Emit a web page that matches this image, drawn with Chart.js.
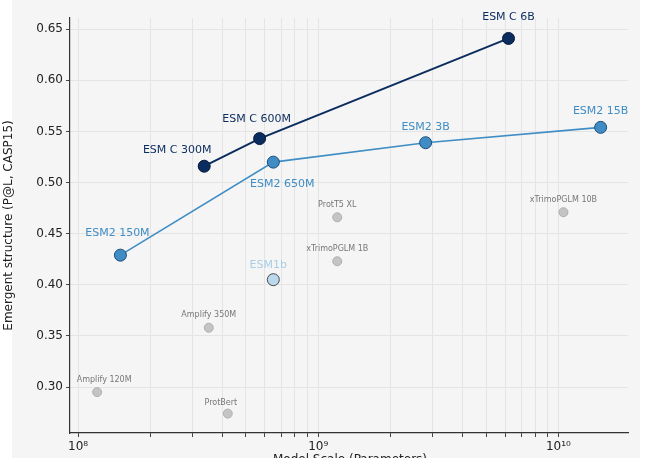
<!DOCTYPE html>
<html><head><meta charset="utf-8">
<script src="https://cdn.jsdelivr.net/npm/chart.js@4"></script>
<style>html,body{margin:0;background:#fff}#wrap{width:660px;height:458px}</style>
</head><body><div id="wrap"><canvas id="c" width="660" height="458"></canvas></div>
<script>
// ─────────── data ───────────
const esmcNames = ["ESM C 300M", "ESM C 600M", "ESM C 6B"];
const esmcParams = [3.35e8, 5.7e8, 6.2e9];
const esmcScore = [0.516, 0.543, 0.641];

const esm2Names = ["ESM2 150M", "ESM2 650M", "ESM2 3B", "ESM2 15B"];
const esm2Params = [1.5e8, 6.5e8, 2.8e9, 1.5e10];
const esm2Score = [0.429, 0.520, 0.539, 0.554];

const esm1bNames = ["ESM1b"];
const esm1bParams = [6.5e8];
const esm1bScore = [0.405];

const otherNames = ["ProtT5 XL", "xTrimoPGLM 1B", "xTrimoPGLM 10B", "Amplify 350M", "Amplify 120M", "ProtBert"];
const otherParams = [1.2e9, 1.2e9, 1.05e10, 3.5e8, 1.2e8, 4.2e8];
const otherScore = [0.466, 0.423, 0.471, 0.358, 0.295, 0.274];

const yTicks = [0.30, 0.35, 0.40, 0.45, 0.50, 0.55, 0.60, 0.65];

// label offsets in px (dx, dy) relative to each point
const offEsmc = [[-27, -16], [-3, -19], [0, -21]];
const offEsm2 = [[-3, -22], [9, 22], [0, -16], [0, -16]];
const offEsm1b = [[-5, -15]];
const offOther = [[0, -12], [0, -12], [0, -12], [0, -13], [7, -12], [-7, -11]];

const pts = (xs, ys) => xs.map((x, i) => ({ x, y: ys[i] }));
const font = "DejaVu Sans";

const labelPlugin = {
  id: "labels",
  beforeDraw(chart) {
    const c = chart.ctx;
    c.save();
    c.fillStyle = "#f5f5f5";
    c.fillRect(12, 0, 628, 458);
    c.restore();
  },
  afterDatasetsDraw(chart) {
    const c = chart.ctx;
    c.save();
    c.textAlign = "center";
    c.textBaseline = "middle";
    chart.data.datasets.forEach((ds, di) => {
      const meta = chart.getDatasetMeta(di);
      meta.data.forEach((el, i) => {
        const [dx, dy] = ds.offsets[i];
        c.fillStyle = ds.labelColor;
        c.font = ds.labelSize + "px '" + font + "'";
        c.fillText(ds.names[i], el.x + dx, el.y + dy);
      });
    });
    c.fillStyle = "#222";
    c.font = "12px '" + font + "'";
    c.fillText("Model Scale (Parameters)", 350, 460);
    c.restore();
  },
};

const sup = { 8: "⁸", 9: "⁹", 10: "¹⁰" };

new Chart(document.getElementById("c"), {
  type: "scatter",
  data: {
    datasets: [{
      names: esmcNames, offsets: offEsmc, labelColor: "#0b2c5e", labelSize: 11,
      data: pts(esmcParams, esmcScore), showLine: true,
      borderColor: "#0b2c5e", backgroundColor: "#0b2c5e", borderWidth: 2,
      pointRadius: 6, pointBorderColor: "#06183a", pointBorderWidth: 1,
    }, {
      names: esm2Names, offsets: offEsm2, labelColor: "#3f8dc4", labelSize: 11,
      data: pts(esm2Params, esm2Score), showLine: true,
      borderColor: "#3f8dc4", backgroundColor: "#3f8dc4", borderWidth: 1.6,
      pointRadius: 6, pointBorderColor: "#1d4d7a", pointBorderWidth: 1,
    }, {
      names: esm1bNames, offsets: offEsm1b, labelColor: "#a9cde6", labelSize: 11,
      data: pts(esm1bParams, esm1bScore),
      backgroundColor: "#bcd8ec", pointRadius: 6, pointBorderColor: "#4a4a4a", pointBorderWidth: 1,
    }, {
      names: otherNames, offsets: offOther, labelColor: "#777", labelSize: 8,
      data: pts(otherParams, otherScore),
      backgroundColor: "#c4c4c4", pointRadius: 4.5, pointBorderColor: "#b0b0b0", pointBorderWidth: 1,
    }],
  },
  options: {
    responsive: false,
    animation: false,
    layout: { padding: { left: 0, right: 32, top: 18, bottom: 0 } },
    plugins: { legend: { display: false }, tooltip: { enabled: false } },
    scales: {
      x: {
        type: "logarithmic", min: 0.925e8, max: 1.95e10,
        afterFit: s => { s.height = 25; },
        afterBuildTicks: s => {
          const t = [];
          for (let e = 8; e <= 10; e++) for (let m = 1; m <= 9; m++) {
            const v = m * Math.pow(10, e);
            if (v >= s.min && v <= s.max) t.push({ value: v });
          }
          s.ticks = t;
        },
        ticks: {
          autoSkip: false, maxRotation: 0, color: "#222", font: { family: font, size: 12 },
          callback: v => { const e = Math.round(Math.log10(v)); return Math.abs(Math.log10(v) - e) < 1e-6 ? "10" + sup[e] : ""; },
        },
        grid: { color: "#e4e4e4", tickColor: "#444", tickLength: 4 },
        border: { color: "#333", width: 1.2 },
      },
      y: {
        min: 0.255, max: 0.661,
        afterFit: s => { s.width = 70; },
        afterBuildTicks: s => { s.ticks = yTicks.map(v => ({ value: v })); },
        ticks: { color: "#222", font: { family: font, size: 12 }, callback: v => v.toFixed(2) },
        grid: { color: "#e4e4e4", tickColor: "#444", tickLength: 4 },
        border: { color: "#333", width: 1.2 },
        title: { display: true, text: "Emergent structure (P@L, CASP15)", color: "#222", font: { family: font, size: 12 }, padding: 2 },
      },
    },
  },
  plugins: [labelPlugin],
});
</script></body></html>
